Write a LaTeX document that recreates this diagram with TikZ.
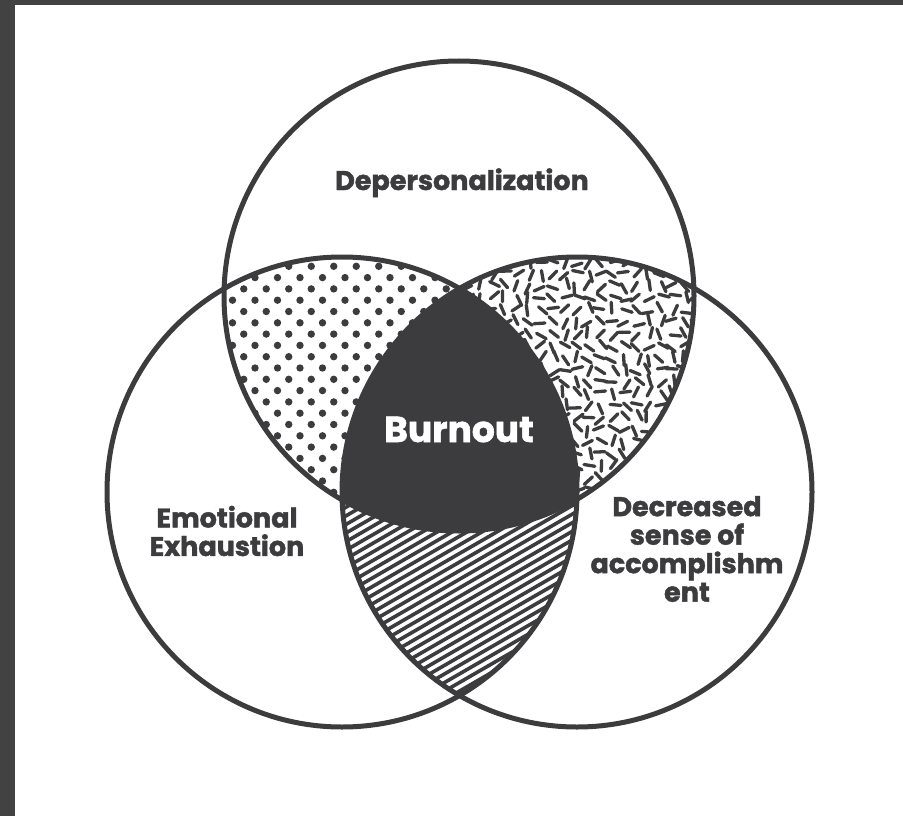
\documentclass[tikz,border=0pt]{standalone}
\usepackage{fontspec}
\setmainfont{Poppins}[BoldFeatures={FakeBold=1.6}]
\definecolor{dk}{RGB}{60,60,62}
\definecolor{bord}{RGB}{66,66,66}
\tikzset{
  ring/.style={draw=dk, line width=5pt},
  lbl/.style={text=dk, font=\fontsize{27}{28.5}\selectfont\bfseries, align=center, inner sep=0pt},
  burn/.style={text=white, font=\fontsize{36}{40}\selectfont\bfseries, inner sep=0pt}
}
\begin{document}
\begin{tikzpicture}[x=1pt,y=-1pt]
\fill[bord] (0,0) rectangle (903,816);
\fill[white] (15,5) rectangle (903,816);
\useasboundingbox (0,0) rectangle (903,816);
\def\R{235}
\coordinate (T) at (459,296);
\coordinate (L) at (342,492);
\coordinate (R) at (577,492);
% dots: top & left
\begin{scope}
  \clip (T) circle (\R);
  \clip (L) circle (\R);
  \foreach \i in {0,...,24}{
    \foreach \j in {0,...,24}{
      \pgfmathtruncatemacro\pp{mod(\i+\j,2)}
      \ifnum\pp=0
        \fill[dk] (210+\i*11.25,255+\j*11.3) circle (3.7pt);
      \fi
    }
  }
\end{scope}
% confetti: top & right
\pgfmathsetseed{12}
\begin{scope}
  \clip (T) circle (\R);
  \clip (R) circle (\R);
  \foreach \i in {0,...,22}{
    \foreach \j in {0,...,22}{
      \pgfmathsetmacro\xx{445+\i*12+rand*3}
      \pgfmathsetmacro\yy{250+\j*12+rand*3}
      \pgfmathsetmacro\aa{rand*180}
      \draw[dk, line width=3.3pt, line cap=round] (\xx,\yy) ++(\aa:5.5pt) -- ++(\aa+180:11pt);
    }
  }
\end{scope}
% hatch: left & right
\begin{scope}
  \clip (L) circle (\R);
  \clip (R) circle (\R);
  \foreach \k in {0,...,95}{
    \draw[dk, line width=3.6pt] (300,250+\k*8.6) -- ++(400,-231);
  }
\end{scope}
% burnout
\begin{scope}
  \clip (T) circle (\R);
  \clip (L) circle (\R);
  \fill[dk] (R) circle (\R);
\end{scope}
\draw[ring] (T) circle (\R);
\draw[ring] (L) circle (\R);
\draw[ring] (R) circle (\R);
\node[lbl, anchor=base] (dep) at (462,190) {Depersonalization};
\node[lbl] (emo) at (227,531) {Emotional\\Exhaustion};
\node[lbl] (dec) at (687,549) {Decreased\\sense of\\accomplishm\\ent};
\node[burn, anchor=base] (bur) at (459,442) {Burnout};
\end{tikzpicture}
\end{document}
